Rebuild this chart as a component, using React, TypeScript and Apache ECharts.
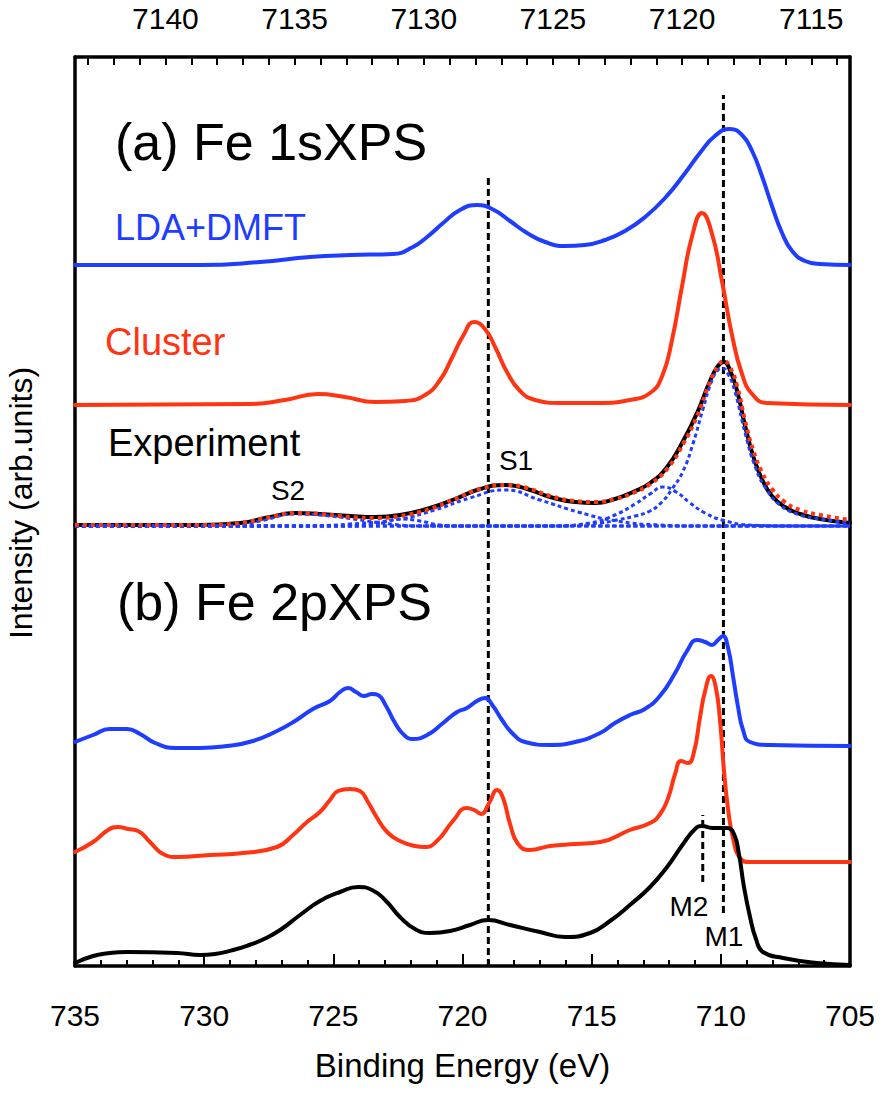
import React, { useEffect, useRef } from "react";
import * as echarts from "echarts";

// Binding-energy window on the Fe 2p scale (bottom axis) and on the Fe 1s scale (top axis)
const BE_MIN = 705;
const BE_MAX = 735;
const BE_1S_MIN = 7113.5;
const BE_1S_MAX = 7143.5;
const INTENSITY_MAX = 909;

const BLUE = "#1f3dff";
const RED = "#ff3412";
const BLACK = "#000000";
const FONT = "Liberation Sans";

// (a) Fe 1s XPS — [binding energy (2p scale, eV), intensity (arb. units, stacked)]
const lda1s: number[][] = [
  [735.0, 701], [730.16, 701], [727.84, 704], [725.9, 709], [724.35, 711], [722.69, 712],
  [721.92, 719], [721.37, 729], [720.75, 743], [720.1, 756], [719.44, 761], [718.78, 756],
  [718.16, 745], [717.5, 733], [716.8, 724], [716.03, 720], [715.26, 721], [714.48, 726],
  [713.71, 735], [712.93, 749], [712.16, 768], [711.38, 793], [710.81, 813], [710.23, 830],
  [709.65, 837], [709.18, 831], [708.79, 815], [708.41, 790], [708.02, 760], [707.63, 733],
  [707.24, 715], [706.74, 705], [706.16, 702], [705.0, 701],
];

const cluster1s: number[][] = [
  [735.0, 561], [728.23, 562], [726.87, 566], [725.59, 572], [724.55, 569], [723.39, 564],
  [722.23, 565], [721.45, 571], [720.87, 586], [720.41, 608], [719.98, 630], [719.55, 644],
  [719.13, 637], [718.7, 617], [718.28, 594], [717.77, 575], [717.19, 566], [716.23, 563],
  [714.68, 563], [713.52, 566], [712.74, 573], [712.27, 590], [711.89, 626], [711.5, 680],
  [711.11, 730], [710.73, 753], [710.34, 732], [709.95, 684], [709.56, 630], [709.18, 592],
  [708.79, 572], [708.21, 563], [705.0, 561],
];

const experiment1s: number[][] = [
  [735.0, 441], [730.16, 441], [728.61, 443], [727.45, 449], [726.48, 453], [725.52, 452],
  [724.35, 450], [723.39, 449], [722.42, 451], [721.26, 458], [720.29, 467], [719.32, 477],
  [718.35, 481], [717.5, 477], [716.61, 469], [715.64, 464], [714.87, 463], [714.1, 467],
  [713.4, 474], [712.74, 483], [712.08, 499], [711.46, 525], [710.92, 553], [710.42, 585],
  [710.11, 600], [709.88, 604], [709.65, 596], [709.37, 575], [709.06, 540], [708.75, 510],
  [708.41, 487], [708.02, 470], [707.52, 459], [706.93, 452], [706.16, 447], [705.0, 443],
];

// total of the fitted components
const fitSum1s: number[][] = [
  [735.0, 441], [730.16, 441], [728.61, 443], [727.45, 449], [726.48, 453], [725.52, 452],
  [724.35, 449], [723.39, 448], [722.42, 450], [721.26, 457], [720.29, 467], [719.32, 477],
  [718.35, 481], [717.5, 478], [716.61, 470], [715.64, 465], [714.87, 464], [714.1, 467],
  [713.4, 473], [712.74, 482], [712.08, 497], [711.46, 522], [710.92, 550], [710.42, 584],
  [710.11, 600], [709.88, 605], [709.65, 599], [709.37, 580], [709.06, 545], [708.75, 516],
  [708.41, 494], [708.02, 477], [707.52, 464], [706.93, 456], [706.16, 451], [705.0, 446],
];

// individual fitted components: M1 main line, M2 shoulder, S1 / S2 satellites, weak 722 eV term
const compMain: number[][] = [
  [735.0, 440], [716.61, 440], [714.68, 443], [714.02, 446], [713.32, 450], [712.74, 455],
  [712.28, 464], [711.89, 477], [711.46, 495], [711.07, 523], [710.69, 557], [710.34, 586],
  [710.11, 596], [709.95, 598], [709.72, 592], [709.45, 574], [709.06, 533], [708.68, 500],
  [708.29, 479], [707.71, 461], [706.93, 451], [706.16, 447], [705.0, 443],
];
const compShoulder: number[][] = [
  [735.0, 440], [716.61, 440], [715.06, 443], [714.1, 451], [713.32, 462], [712.74, 472],
  [712.24, 479], [711.73, 474], [711.19, 463], [710.61, 453], [709.95, 446], [708.87, 441],
  [707.32, 440], [705.0, 440],
];
const compS1: number[][] = [
  [735.0, 440], [726.29, 440], [724.35, 442], [722.42, 447], [721.07, 456], [719.71, 468],
  [718.35, 476], [717.0, 466], [715.53, 454], [714.02, 445], [712.36, 441], [710.81, 440], [705.0, 440],
];
const compS2: number[][] = [
  [735.0, 440], [729.0, 440], [727.84, 445], [726.48, 452], [725.13, 450], [723.97, 446],
  [722.8, 442], [721.64, 440], [705.0, 440],
];
const compS3: number[][] = [
  [735.0, 440], [724.35, 440], [723.19, 443], [722.42, 447], [721.64, 445], [720.87, 441],
  [720.0, 440], [705.0, 440],
];

// (b) Fe 2p XPS
const lda2p: number[][] = [
  [735.0, 224], [734.3, 231], [733.65, 237], [732.99, 237], [732.48, 232], [731.9, 223],
  [731.13, 218], [730.16, 218], [729.12, 220], [728.11, 225], [727.18, 235], [726.48, 245],
  [725.79, 257], [725.13, 265], [724.74, 274], [724.43, 278], [724.12, 274], [723.81, 270],
  [723.5, 272], [723.27, 271], [722.96, 260], [722.61, 243], [722.26, 231], [721.92, 227],
  [721.37, 231], [720.75, 243], [720.21, 254], [719.83, 258], [719.44, 265], [719.13, 268],
  [718.82, 260], [718.47, 246], [718.08, 233], [717.58, 224], [716.61, 221], [715.64, 224],
  [714.67, 233], [714.1, 243], [713.52, 251], [712.94, 257], [712.36, 270], [711.77, 293],
  [711.31, 315], [710.92, 326], [710.61, 324], [710.34, 321], [710.11, 326], [709.92, 330],
  [709.72, 318], [709.53, 290], [709.34, 260], [709.14, 236], [708.87, 224], [708.1, 221],
  [705.0, 220],
];

const cluster2p: number[][] = [
  [735.0, 114], [734.3, 124], [733.72, 136], [733.34, 139], [732.95, 137], [732.56, 135],
  [732.1, 124], [731.59, 112], [731.05, 109], [729.77, 111], [728.5, 113], [727.18, 119],
  [726.56, 131], [726.02, 144], [725.52, 154], [725.13, 166], [724.82, 175], [724.35, 177],
  [723.97, 175], [723.66, 164], [723.35, 150], [722.92, 134], [722.42, 125], [721.84, 120],
  [721.45, 119], [720.99, 125], [720.37, 145], [719.83, 158], [719.55, 156], [719.28, 152],
  [718.97, 163], [718.66, 176], [718.43, 168], [718.16, 142], [717.85, 122], [717.39, 116],
  [716.61, 120], [715.64, 122], [714.67, 124], [713.52, 136], [712.74, 143], [712.35, 152],
  [712.04, 168], [711.77, 192], [711.54, 205], [711.27, 203], [711.04, 214], [710.81, 248],
  [710.61, 275], [710.38, 290], [710.19, 278], [710.03, 245], [709.88, 196], [709.72, 157],
  [709.53, 128], [709.26, 108], [708.87, 104], [705.0, 104],
];

const experiment2p: number[][] = [
  [735.0, 3], [734.3, 10], [733.65, 13], [732.99, 14], [731.05, 13], [730.16, 11],
  [729.58, 12], [728.88, 16], [728.26, 21], [727.68, 27], [727.06, 36], [726.29, 51],
  [725.52, 65], [724.74, 74], [724.04, 79], [723.5, 76], [722.96, 65], [722.42, 49],
  [721.84, 37], [721.26, 33], [720.48, 35], [719.71, 41], [719.01, 46], [718.16, 41],
  [717.0, 34], [716.03, 29], [715.06, 33], [714.29, 45], [713.52, 61], [712.74, 79],
  [712.08, 99], [711.46, 122], [711.0, 137], [710.73, 140], [710.34, 138], [709.76, 138],
  [709.49, 132], [709.3, 112], [709.11, 80], [708.87, 49], [708.64, 27], [708.37, 14],
  [707.59, 8], [706.28, 3], [705.0, 1],
];

// guide lines at S1 (719.0 eV), M1 (709.9 eV) and M2 (710.7 eV)
const guideS1: number[][] = [[719.0, 0], [719.0, 788]];
const guideM1: number[][] = [[709.9, 53], [709.9, 871]];
const guideM2: number[][] = [[710.7, 84], [710.7, 151]];

const solid = (name: string, data: number[][], color: string, z = 3) => ({
  name,
  type: "line",
  data,
  xAxisIndex: 0,
  yAxisIndex: 0,
  smooth: 0.5,
  showSymbol: false,
  symbol: "none",
  z,
  lineStyle: { color, width: 4, cap: "round", join: "round" },
});

const dotted = (name: string, data: number[][], color: string, width: number, dash: number[], z: number) => ({
  name,
  type: "line",
  data,
  xAxisIndex: 0,
  yAxisIndex: 0,
  smooth: 0.5,
  showSymbol: false,
  symbol: "none",
  z,
  lineStyle: { color, width, type: dash, cap: "butt" },
});

const guide = (name: string, data: number[][]) => ({
  name,
  type: "line",
  data,
  xAxisIndex: 0,
  yAxisIndex: 0,
  showSymbol: false,
  symbol: "none",
  z: 2,
  lineStyle: { color: BLACK, width: 3, type: [7, 4], cap: "butt" },
});

const label = (text: string, x: number, y: number, size: number, fill: string, align = "left", rotation = 0) => ({
  type: "text",
  x,
  y,
  rotation,
  z: 10,
  style: {
    text,
    fill,
    fontSize: size,
    fontFamily: FONT,
    align,
    verticalAlign: "middle",
  },
});

export default function App() {
  const ref = useRef<HTMLDivElement>(null);

  useEffect(() => {
    if (!ref.current) return;
    const chart = echarts.init(ref.current, undefined, { renderer: "svg" });
    const axisLine = { show: true, onZero: false, lineStyle: { color: BLACK, width: 3.5 } };

    chart.setOption({
      animation: false,
      backgroundColor: "#ffffff",
      grid: { left: 75, right: 46, top: 57, bottom: 127, containLabel: false },
      xAxis: [
        {
          type: "value",
          position: "bottom",
          min: BE_MIN,
          max: BE_MAX,
          interval: 5,
          inverse: true,
          axisLine,
          axisTick: { show: true, inside: true, length: 12, lineStyle: { color: BLACK, width: 2 } },
          minorTick: { show: true, splitNumber: 5, length: 6, lineStyle: { color: BLACK, width: 2 } },
          splitLine: { show: false },
          axisLabel: { color: BLACK, fontSize: 30, fontFamily: FONT, margin: 34 },
          name: "Binding Energy (eV)",
          nameLocation: "middle",
          nameGap: 83,
          nameTextStyle: { color: BLACK, fontSize: 33, fontFamily: FONT },
        },
        {
          type: "value",
          position: "top",
          min: BE_1S_MIN,
          max: BE_1S_MAX,
          inverse: true,
          axisLine,
          axisTick: { show: true, inside: true, length: 8, lineStyle: { color: BLACK, width: 2 } },
          minorTick: { show: true, splitNumber: 5, length: 8, lineStyle: { color: BLACK, width: 2 } },
          splitLine: { show: false },
          axisLabel: {
            color: BLACK,
            fontSize: 30,
            fontFamily: FONT,
            margin: 24,
            showMinLabel: false,
            showMaxLabel: false,
            formatter: (v: number) => (Math.abs(v % 5) < 1e-6 ? String(v) : ""),
          },
        },
      ],
      yAxis: [
        {
          type: "value",
          position: "left",
          min: 0,
          max: INTENSITY_MAX,
          axisLine,
          axisTick: { show: false },
          axisLabel: { show: false },
          splitLine: { show: false },
        },
        {
          type: "value",
          position: "right",
          min: 0,
          max: INTENSITY_MAX,
          axisLine,
          axisTick: { show: false },
          axisLabel: { show: false },
          splitLine: { show: false },
        },
      ],
      series: [
        guide("S1 guide", guideS1),
        guide("M1 guide", guideM1),
        guide("M2 guide", guideM2),
        solid("LDA+DMFT 1s", lda1s, BLUE),
        solid("Cluster 1s", cluster1s, RED),
        solid("Experiment 1s", experiment1s, BLACK),
        dotted("M1 component", compMain, BLUE, 3, [4, 3], 4),
        dotted("M2 component", compShoulder, BLUE, 3, [4, 3], 4),
        dotted("S1 component", compS1, BLUE, 3, [4, 3], 4),
        dotted("S2 component", compS2, BLUE, 3, [4, 3], 4),
        dotted("S3 component", compS3, BLUE, 3, [4, 3], 4),
        dotted("Fit", fitSum1s, RED, 4, [4, 4], 5),
        solid("LDA+DMFT 2p", lda2p, BLUE),
        solid("Cluster 2p", cluster2p, RED),
        solid("Experiment 2p", experiment2p, BLACK),
      ],
      graphic: [
        label("Intensity (arb.units)", 21, 503, 32, BLACK, "center", Math.PI / 2),
        label("(a) Fe 1sXPS", 115, 142, 52, BLACK),
        label("LDA+DMFT", 115, 227, 36, BLUE),
        label("Cluster", 105, 342, 38, RED),
        label("Experiment", 108, 443, 38, BLACK),
        label("S2", 288, 490, 28, BLACK, "center"),
        label("S1", 516, 460, 28, BLACK, "center"),
        label("(b) Fe 2pXPS", 117, 602, 52, BLACK),
        label("M2", 689, 906, 28, BLACK, "center"),
        label("M1", 724, 936, 28, BLACK, "center"),
      ],
    });

    return () => chart.dispose();
  }, []);

  return (
    <div
      ref={ref}
      style={{ position: "absolute", left: 0, top: 0, width: 896, height: 1093, background: "#fff" }}
    />
  );
}
